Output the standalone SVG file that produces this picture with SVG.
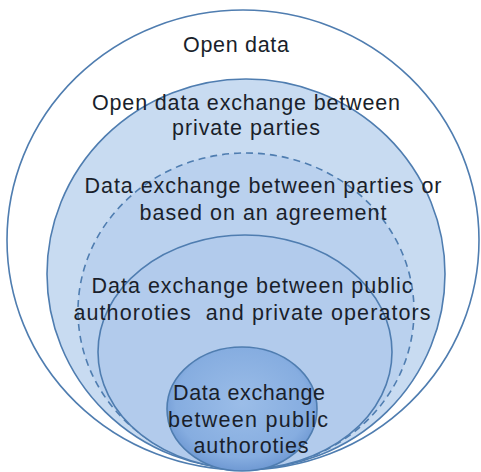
<svg xmlns="http://www.w3.org/2000/svg" width="481" height="472" viewBox="0 0 481 472">
  <defs>
    <radialGradient id="gInner" cx="0.5" cy="0.45" r="0.55">
      <stop offset="0" stop-color="#9bbde8"/>
      <stop offset="0.8" stop-color="#86ade0"/>
      <stop offset="1" stop-color="#6f99d3"/>
    </radialGradient>
  </defs>
  <style>
    .ring { stroke: #4f7db0; stroke-width: 1.6; }
    .dash { stroke-dasharray: 7 5; }
    text { font-family: "Liberation Sans", Arial, sans-serif; font-size: 21.5px; fill: #1a1f2b; text-anchor: middle; white-space: pre; }
  </style>
  <rect width="481" height="472" fill="#ffffff"/>
  <g id="open-data">
    <ellipse class="ring" cx="243" cy="240" rx="236" ry="230" fill="#ffffff"/>
    <text x="236" y="52" textLength="106">Open data</text>
  </g>
  <g id="private-parties">
    <ellipse class="ring" cx="246" cy="274" rx="199" ry="195" fill="#c8dbf1"/>
    <text x="246" y="110" textLength="308">Open data exchange between</text>
    <text x="246" y="135" textLength="148">private parties</text>
  </g>
  <g id="agreement">
    <ellipse class="ring dash" cx="246" cy="311" rx="168" ry="158" fill="#bad1ee"/>
    <text x="263" y="193" textLength="357">Data exchange between parties or</text>
    <text x="263" y="220" textLength="247">based on an agreement</text>
  </g>
  <g id="public-private">
    <ellipse class="ring" cx="245" cy="352" rx="147" ry="117" fill="#b2cbec"/>
    <text x="252" y="293" textLength="321">Data exchange between public</text>
    <text x="252" y="320" textLength="357" xml:space="preserve">authoroties  and private operators</text>
  </g>
  <g id="public-public">
    <ellipse class="ring" cx="242" cy="409" rx="75" ry="62" fill="url(#gInner)"/>
    <text x="249" y="400" textLength="152">Data exchange</text>
    <text x="248" y="427" textLength="160">between public</text>
    <text x="251" y="453" textLength="115">authoroties</text>
  </g>
  <g id="connectors"></g>
</svg>
